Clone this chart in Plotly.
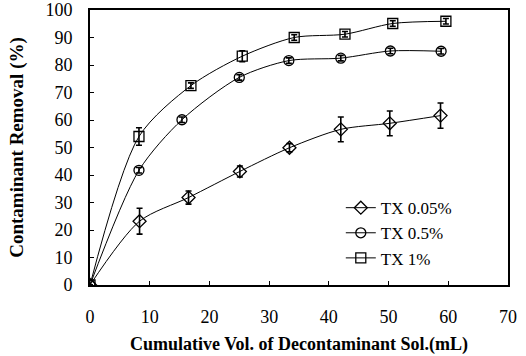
import plotly.graph_objects as go

vol_sq = [0, 8.2, 16.9, 25.5, 34.2, 42.7, 50.7, 59.6]
rem_sq = [0, 54.0, 72.5, 83.2, 90.0, 91.2, 95.1, 95.9]
err_sq = [0, 3.2, 1.0, 2.0, 1.0, 1.0, 1.0, 1.0]

vol_ci = [0, 8.2, 15.4, 25.0, 33.3, 42.0, 50.3, 58.8]
rem_ci = [0, 41.7, 60.1, 75.5, 81.6, 82.5, 85.1, 85.0]
err_ci = [0, 1.0, 1.0, 1.0, 1.0, 1.0, 1.0, 1.0]

vol_di = [0, 8.3, 16.5, 25.1, 33.4, 42.0, 50.2, 58.7]
rem_di = [0, 23.2, 31.8, 41.3, 49.9, 56.6, 58.8, 61.6]
err_di = [0, 4.7, 2.4, 2.0, 1.5, 4.5, 4.5, 4.6]

names = ["TX 0.05%", "TX 0.5%", "TX 1%"]
symbols = ["diamond-open", "circle-open", "square-open"]

fig = go.Figure()
series = [(vol_di, rem_di, err_di), (vol_ci, rem_ci, err_ci), (vol_sq, rem_sq, err_sq)]
for (xv, yv, ev), nm, sym in zip(series, names, symbols):
    fig.add_trace(go.Scatter(
        x=xv, y=yv, name=nm, mode="lines+markers",
        line=dict(color="black", width=1, shape="spline", smoothing=0.8),
        marker=dict(symbol=sym, size=10, color="black", line=dict(width=1.3, color="black")),
        error_y=dict(type="data", array=ev, visible=True, color="black", thickness=1.6, width=3),
    ))

font_serif = "Liberation Serif, Times New Roman, serif"
fig.update_layout(
    width=526, height=356,
    margin=dict(l=90, r=18, t=10, b=71),
    paper_bgcolor="white", plot_bgcolor="white",
    font=dict(family=font_serif, color="black", size=17),
    showlegend=True,
    legend=dict(x=0.6, y=0.345, xanchor="left", yanchor="top",
                bgcolor="rgba(0,0,0,0)", font=dict(size=17, family=font_serif),
                itemwidth=30, tracegroupgap=0),
    xaxis=dict(range=[0, 70], dtick=10, showgrid=False, zeroline=False,
               showline=True, linecolor="black", linewidth=2, mirror=True,
               ticks="inside", ticklen=4, tickcolor="black",
               ticklabelstandoff=14, automargin=False, ticklabeloverflow="allow",
               tickfont=dict(size=18, family=font_serif),
               title=dict(text="<b>Cumulative Vol. of Decontaminant Sol.(mL)</b>",
                          font=dict(size=18, family=font_serif), standoff=12)),
    yaxis=dict(range=[0, 100], dtick=10, showgrid=False, zeroline=False,
               showline=True, linecolor="black", linewidth=2, mirror=True,
               ticks="inside", ticklen=4, tickcolor="black",
               ticklabelstandoff=12, automargin=False, ticklabeloverflow="allow",
               tickfont=dict(size=18, family=font_serif),
               title=dict(text="<b>Contaminant Removal (%)</b>",
                          font=dict(size=19, family=font_serif), standoff=17)),
)
fig.write_html("out.html")
